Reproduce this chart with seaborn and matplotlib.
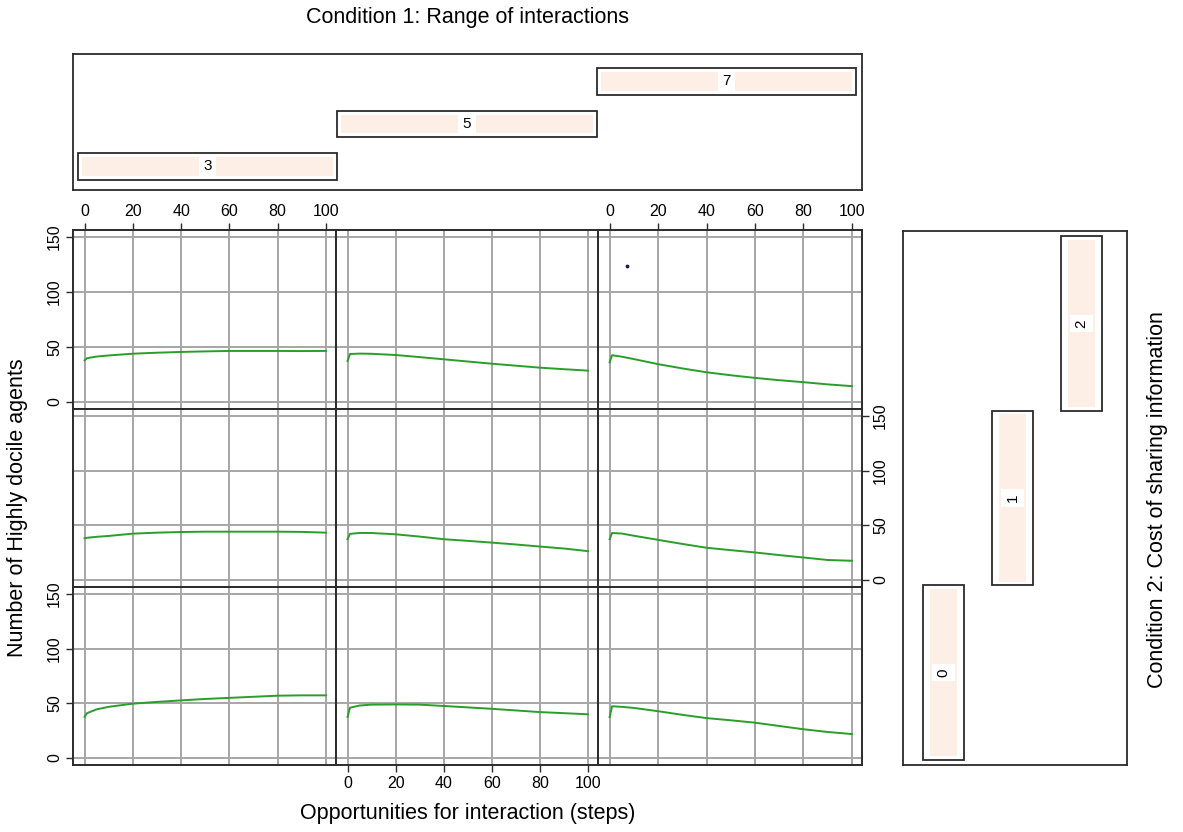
import matplotlib
matplotlib.use("Agg")
import matplotlib.pyplot as plt
from matplotlib.patches import Rectangle
import seaborn as sns
import pandas as pd

# ---------------- data ----------------
ranges = ["3", "5", "7"]            # Condition 1: range of interactions (columns)
costs = ["0", "1", "2"]             # Condition 2: cost of sharing information (rows, bottom -> top)
steps = [0, 1, 5, 10, 20, 30, 40, 50, 60, 70, 80, 90, 100]

# cost 2 (top row)
c2_r3 = [37.9, 39.8, 41.3, 42.3, 43.9, 44.8, 45.5, 46.0, 46.4, 46.4, 46.4, 46.3, 46.4]
c2_r5 = [37.3, 43.6, 44.0, 43.8, 42.7, 40.8, 38.8, 36.8, 34.8, 33.0, 31.2, 29.8, 28.5]
c2_r7 = [36.0, 42.5, 41.2, 39.0, 34.4, 30.5, 27.0, 24.3, 21.9, 19.8, 18.0, 16.0, 14.4]
# cost 1 (middle row)
c1_r3 = [38.2, 38.6, 39.5, 40.3, 42.4, 43.3, 43.9, 44.2, 44.2, 44.2, 44.2, 44.0, 43.3]
c1_r5 = [37.3, 42.2, 43.0, 43.0, 41.8, 39.7, 37.3, 35.8, 34.2, 32.5, 30.6, 28.8, 26.4]
c1_r7 = [37.3, 43.0, 42.5, 40.5, 36.7, 33.0, 29.5, 27.3, 25.2, 22.8, 20.6, 18.3, 17.6]
# cost 0 (bottom row)
c0_r3 = [37.6, 41.0, 44.5, 46.8, 49.7, 51.3, 52.7, 54.0, 55.0, 56.0, 57.0, 57.3, 57.3]
c0_r5 = [37.6, 46.0, 48.0, 48.8, 49.0, 48.8, 47.6, 46.3, 45.0, 43.5, 42.0, 41.0, 40.0]
c0_r7 = [37.4, 47.3, 46.8, 45.8, 42.8, 39.5, 36.5, 34.5, 32.3, 29.3, 26.3, 23.8, 21.9]

# stray point seen in cost 2 / range 7 panel
stray_step = [7]
stray_value = [124]

xticks = [0, 20, 40, 60, 80, 100]
yticks = [0, 50, 100, 150]

series = {
    ("2", "3"): c2_r3, ("2", "5"): c2_r5, ("2", "7"): c2_r7,
    ("1", "3"): c1_r3, ("1", "5"): c1_r5, ("1", "7"): c1_r7,
    ("0", "3"): c0_r3, ("0", "5"): c0_r5, ("0", "7"): c0_r7,
}
rows = []
for (cost, rng), vals in series.items():
    for s, v in zip(steps, vals):
        rows.append({"cost": cost, "range": rng, "step": s, "agents": v})
df = pd.DataFrame(rows)

# ---------------- style ----------------
plt.rcParams["font.family"] = ["Liberation Sans", "DejaVu Sans"]
W, H = 1183, 832
fig = plt.figure(figsize=(W / 100, H / 100), dpi=100)


def px_axes(x0, y0, x1, y1):
    return fig.add_axes([x0 / W, 1 - y1 / H, (x1 - x0) / W, (y1 - y0) / H])


green = "#2a9e2a"
grid_c = "#a6a6a6"
spine_c = "#2b2b2b"
peach = "#fdefe5"
tick_fs = 11.5
label_fs = 15.5

col_edges = [73, 336, 598, 862]
row_edges = [230, 409, 587, 765]
row_costs = ["2", "1", "0"]

for r in range(3):
    for c in range(3):
        ax = px_axes(col_edges[c], row_edges[r], col_edges[c + 1], row_edges[r + 1])
        sub = df[(df["cost"] == row_costs[r]) & (df["range"] == ranges[c])]
        sns.lineplot(data=sub, x="step", y="agents", ax=ax, color=green,
                     linewidth=1.4, estimator=None, zorder=3)
        if row_costs[r] == "2" and ranges[c] == "7":
            ax.scatter(stray_step, stray_value, s=3, color="#1a1a50", zorder=4)
        ax.set_xlim(-4.8, 104.2)
        ax.set_ylim(-6.4, 156.4)
        ax.set_xticks(xticks)
        ax.set_yticks(yticks)
        ax.grid(True, color=grid_c, linewidth=1.4, zorder=0)
        ax.set_axisbelow(True)
        ax.set_xlabel("")
        ax.set_ylabel("")
        for sp in ax.spines.values():
            sp.set_color(spine_c)
            sp.set_linewidth(1.4)
        show_left = (c == 0 and r in (0, 2))
        show_right = (c == 2 and r == 1)
        show_top = (r == 0 and c in (0, 2))
        show_bottom = (r == 2 and c == 1)
        ax.tick_params(axis="y", which="both", left=show_left, labelleft=show_left,
                       right=show_right, labelright=show_right, direction="out",
                       length=5, width=1.0, color=spine_c, labelsize=tick_fs,
                       labelrotation=90, pad=3)
        ax.tick_params(axis="x", which="both", top=show_top, labeltop=show_top,
                       bottom=show_bottom, labelbottom=show_bottom, direction="out",
                       length=5, width=1.0, color=spine_c, labelsize=tick_fs, pad=3)
        for lab in ax.get_yticklabels():
            lab.set_va("center")

# ---------------- top strip (Condition 1) ----------------
axt = px_axes(73, 54, 862, 190)
axt.set_xlim(-0.019, 3.023)
axt.set_ylim(-0.553, 2.647)
bh = 0.635
for i, lab in enumerate(ranges):
    axt.add_patch(Rectangle((i, i - bh / 2), 1, bh, facecolor="white",
                            edgecolor=spine_c, linewidth=1.3, zorder=2))
    axt.add_patch(Rectangle((i + 0.015, i - bh / 2 + 0.1), 1 - 0.03, bh - 0.2,
                            facecolor=peach, edgecolor="none", zorder=3))
    axt.text(i + 0.5, i, lab, ha="center", va="center", fontsize=11, zorder=4,
             bbox=dict(boxstyle="square,pad=0.3", fc="white", ec="none"))
axt.set_xticks([])
axt.set_yticks([])
for sp in axt.spines.values():
    sp.set_color(spine_c)
    sp.set_linewidth(1.3)

# ---------------- right strip (Condition 2) ----------------
axr = px_axes(903, 231, 1127, 765)
axr.set_xlim(-0.587, 2.659)
axr.set_ylim(-0.029, 3.029)
bw = 0.594
for i, lab in enumerate(costs):
    axr.add_patch(Rectangle((i - bw / 2, i), bw, 1, facecolor="white",
                            edgecolor=spine_c, linewidth=1.3, zorder=2))
    axr.add_patch(Rectangle((i - bw / 2 + 0.1, i + 0.02), bw - 0.2, 1 - 0.04,
                            facecolor=peach, edgecolor="none", zorder=3))
    axr.text(i, i + 0.5, lab, ha="center", va="center", fontsize=11, rotation=90,
             zorder=4, bbox=dict(boxstyle="square,pad=0.3", fc="white", ec="none"))
axr.set_xticks([])
axr.set_yticks([])
for sp in axr.spines.values():
    sp.set_color(spine_c)
    sp.set_linewidth(1.3)

# ---------------- labels ----------------
fig.text(468 / W, 1 - 18 / H, "Condition 1: Range of interactions",
         ha="center", va="center", fontsize=label_fs)
fig.text(468 / W, 1 - 813 / H, "Opportunities for interaction (steps)",
         ha="center", va="center", fontsize=label_fs)
fig.text(18 / W, 1 - 508 / H, "Number of Highly docile agents",
         ha="center", va="center", rotation=90, fontsize=label_fs)
fig.text(1157 / W, 1 - 500 / H, "Condition 2: Cost of sharing information",
         ha="center", va="center", rotation=90, fontsize=label_fs)

fig.savefig("out.png", dpi=100, facecolor="white")
